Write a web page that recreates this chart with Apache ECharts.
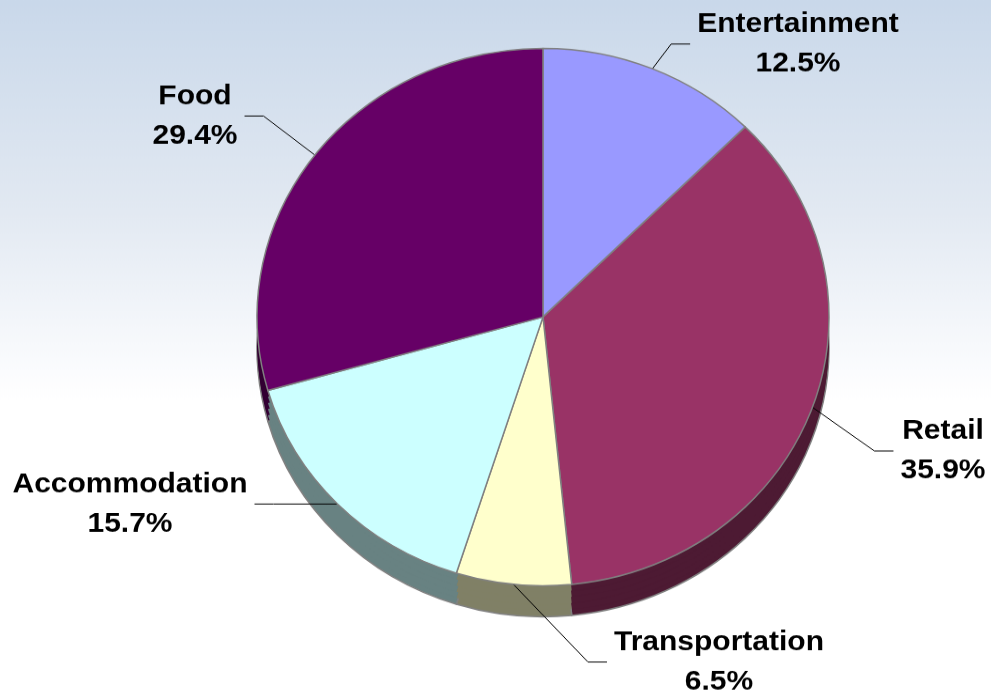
<!DOCTYPE html>
<html><head><meta charset="utf-8">
<script src="https://cdn.jsdelivr.net/npm/echarts@6/dist/echarts.min.js"></script>
<style>
html,body{margin:0;padding:0;background:#fff;overflow:hidden}
#wrap{width:991px;height:700px;overflow:hidden;position:relative}
#c{width:991px;height:745px;transform:scaleY(0.9396);transform-origin:0 0}
</style>
</head><body><div id="wrap"><div id="c"></div></div>
<script>
const categories = ['Entertainment', 'Retail', 'Transportation', 'Accommodation', 'Food'];
const shares = [12.5, 35.9, 6.5, 15.7, 29.4];
const topColors = ['#9999FF', '#993366', '#FFFFCC', '#CCFFFF', '#660066'];
const sideColors = ['#4d4d80', '#4d1a33', '#808066', '#688282', '#330033'];

const chart = echarts.init(document.getElementById('c'));
const SY = 0.9396; // vertical tilt of the 3D pie (page is squeezed by this factor)
const CX = 543, CY = 317 / SY, R = 286, DEPTH = 31 / SY;
const labelPos = [[798, 44], [943, 451], [719, 662], [130, 504], [195, 116]].map(p => [p[0], p[1] / SY]);

function pieData(colors) {
  return categories.map((n, i) => ({ name: n, value: shares[i], itemStyle: { color: colors[i] } }));
}

const series = [];
// side (extrusion) layers
[1, 0.8, 0.6, 0.4, 0.2].forEach((f, k) => {
  series.push({
    type: 'pie', silent: true, startAngle: 90, clockwise: true,
    center: [CX, CY + DEPTH * f], radius: R, z: 1 + k * 0.1,
    animation: false,
    label: { show: false }, labelLine: { show: false },
    itemStyle: k === 0 ? { borderColor: '#808080', borderWidth: 1.5 } : { borderWidth: 0 },
    data: pieData(sideColors)
  });
});
// top face
series.push({
  type: 'pie', startAngle: 90, clockwise: true, animation: false,
  center: [CX, CY], radius: R, z: 5, percentPrecision: 1,
  itemStyle: { borderColor: '#808080', borderWidth: 1.5 },
  label: {
    show: true, position: 'outside', formatter: '{b}\n{d}%',
    fontFamily: '"Liberation Sans", Arial, sans-serif', fontWeight: 'bold',
    fontSize: 30, lineHeight: 42, color: '#000'
  },
  labelLine: { show: true, length: 20, length2: 20, lineStyle: { color: '#000', width: 1 } },
  labelLayout: function (p) {
    const pos = labelPos[p.dataIndex];
    const w = p.labelRect.width;
    const right = pos[0] > CX;
    const endX = right ? pos[0] - w / 2 - 7 : pos[0] + w / 2 + 7;
    const elbowX = right ? endX - 19 : endX + 19;
    const start = p.labelLinePoints ? p.labelLinePoints[0] : [CX, CY];
    return {
      x: pos[0], y: pos[1], align: 'center', verticalAlign: 'middle',
      labelLinePoints: [start, [elbowX, pos[1]], [endX, pos[1]]]
    };
  },
  data: pieData(topColors)
});

chart.setOption({
  backgroundColor: {
    type: 'linear', x: 0, y: 0, x2: 0, y2: 1,
    colorStops: [
      { offset: 0, color: '#c9d8ea' },
      { offset: 0.3, color: '#e2e9f2' },
      { offset: 0.53, color: '#fbfcfe' },
      { offset: 0.57, color: '#ffffff' },
      { offset: 1, color: '#ffffff' }
    ]
  },
  animation: false,
  series: series
});
</script></body></html>
